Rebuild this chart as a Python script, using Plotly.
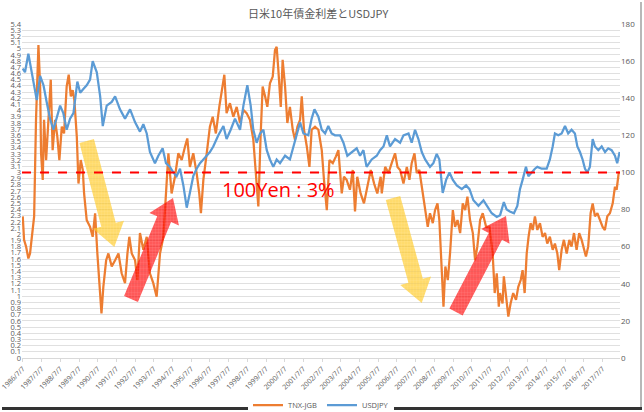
import pandas as pd
import plotly.graph_objects as go

# time axis as decimal years
spread_t = [1986.50, 1986.57, 1986.68, 1986.80, 1986.89, 1987.03, 1987.11, 1987.21, 1987.34, 1987.43,
            1987.48, 1987.57, 1987.64, 1987.75, 1987.87, 1988.00, 1988.10, 1988.23, 1988.35, 1988.46,
            1988.59, 1988.71, 1988.85, 1988.96, 1989.07, 1989.17, 1989.26, 1989.39, 1989.48, 1989.60,
            1989.71, 1989.78, 1989.92, 1990.10, 1990.24, 1990.37, 1990.49, 1990.60, 1990.71, 1990.81,
            1990.96, 1991.08, 1991.26, 1991.44, 1991.62, 1991.79, 1991.97, 1992.10, 1992.20, 1992.33,
            1992.51, 1992.63, 1992.77, 1992.95, 1993.13, 1993.30, 1993.48, 1993.66, 1993.84, 1994.02,
            1994.16, 1994.29, 1994.46, 1994.64, 1994.82, 1995.00, 1995.18, 1995.30, 1995.44, 1995.62,
            1995.80, 1995.94, 1996.03, 1996.16, 1996.34, 1996.51, 1996.66, 1996.83, 1997.01, 1997.19,
            1997.28, 1997.40, 1997.58, 1997.76, 1997.94, 1998.12, 1998.30, 1998.47, 1998.65, 1998.83,
            1998.97, 1999.10, 1999.22, 1999.33, 1999.46, 1999.58, 1999.72, 1999.87, 1999.99, 2000.08,
            2000.17, 2000.30, 2000.40, 2000.53, 2000.65, 2000.79, 2000.94, 2001.06, 2001.19, 2001.33,
            2001.42, 2001.54, 2001.69, 2001.83, 2001.95, 2002.13, 2002.31, 2002.49, 2002.61, 2002.76,
            2002.90, 2003.08, 2003.25, 2003.38, 2003.56, 2003.68, 2003.82, 2004.00, 2004.15, 2004.27,
            2004.39, 2004.57, 2004.75, 2004.93, 2005.11, 2005.29, 2005.46, 2005.64, 2005.70, 2005.88,
            2006.06, 2006.23, 2006.41, 2006.54, 2006.68, 2006.86, 2007.04, 2007.18, 2007.30, 2007.45,
            2007.57, 2007.71, 2007.89, 2008.02, 2008.16, 2008.28, 2008.43, 2008.55, 2008.68, 2008.78,
            2008.91, 2009.00, 2009.10, 2009.23, 2009.35, 2009.50, 2009.62, 2009.75, 2009.89, 2010.03,
            2010.16, 2010.28, 2010.42, 2010.57, 2010.69, 2010.81, 2010.96, 2011.10, 2011.28, 2011.46,
            2011.63, 2011.74, 2011.85, 2011.96, 2012.02, 2012.16, 2012.23, 2012.34, 2012.47, 2012.59,
            2012.73, 2012.88, 2013.00, 2013.13, 2013.23, 2013.34, 2013.45, 2013.55, 2013.66, 2013.77,
            2013.89, 2014.02, 2014.16, 2014.30, 2014.43, 2014.55, 2014.69, 2014.84, 2014.96, 2015.09,
            2015.19, 2015.32, 2015.44, 2015.59, 2015.73, 2015.85, 2015.98, 2016.12, 2016.26, 2016.39,
            2016.51, 2016.62, 2016.74, 2016.87, 2016.98, 2017.10, 2017.23, 2017.37, 2017.51, 2017.63,
            2017.76, 2017.90, 2018.05, 2018.17, 2018.26, 2018.37, 2018.42]
spread_v = [2.29, 1.91, 1.80, 1.61, 1.69, 2.02, 2.29, 3.85, 5.06, 4.39,
            3.31, 2.88, 3.85, 3.20, 3.74, 4.50, 3.36, 3.85, 3.58, 3.20,
            3.74, 3.63, 4.39, 4.58, 4.23, 4.33, 4.17, 3.58, 2.82, 3.20,
            3.04, 2.66, 2.23, 2.12, 1.96, 2.34, 1.69, 1.26, 0.72, 1.15,
            1.58, 1.69, 1.48, 1.58, 1.69, 1.37, 1.21, 1.69, 1.96, 1.69,
            1.58, 1.26, 2.02, 1.75, 1.96, 1.37, 1.21, 0.99, 1.69, 1.96,
            2.77, 3.31, 2.66, 2.93, 3.31, 3.20, 3.42, 3.55, 3.09, 3.31,
            2.99, 2.66, 2.34, 2.88, 3.31, 3.74, 3.90, 3.63, 4.06, 4.39,
            4.58, 3.96, 4.12, 3.90, 4.06, 3.80, 4.01, 3.96, 3.85, 3.53,
            3.04, 2.45, 3.58, 4.39, 4.23, 4.06, 4.44, 4.55, 4.98, 5.03,
            4.66, 4.06, 4.82, 4.39, 3.80, 4.06, 3.69, 3.53, 3.74, 3.85,
            4.23, 3.69, 3.42, 3.09, 3.69, 3.74, 3.69, 3.36, 2.88, 2.39,
            3.20, 3.15, 3.26, 3.36, 2.66, 2.93, 2.88, 2.72, 3.04, 2.37,
            2.93, 2.66, 2.50, 2.77, 3.04, 2.82, 2.66, 2.93, 2.66, 3.09,
            2.99, 3.15, 3.31, 3.09, 3.04, 2.82, 3.09, 2.88, 3.15, 3.31,
            2.99, 3.04, 2.66, 2.34, 2.12, 2.34, 2.18, 2.39, 2.50, 2.23,
            1.37, 0.83, 1.48, 1.26, 1.69, 2.39, 2.12, 2.23, 2.02, 2.50,
            2.39, 2.61, 2.23, 2.02, 1.58, 1.80, 2.23, 2.34, 2.12, 2.12,
            1.69, 1.05, 1.37, 0.83, 1.05, 0.88, 1.32, 0.99, 0.67, 0.88,
            1.05, 0.94, 1.15, 1.26, 1.42, 1.05, 1.69, 1.96, 2.18, 2.07,
            2.29, 2.07, 2.18, 1.96, 2.02, 1.85, 1.96, 1.75, 1.85, 1.69,
            1.42, 1.75, 1.91, 1.69, 1.91, 1.80, 2.02, 1.75, 2.02, 1.91,
            1.75, 1.64, 1.80, 2.34, 2.50, 2.29, 2.34, 2.23, 2.12, 2.07,
            2.29, 2.34, 2.50, 2.77, 2.72, 2.99, 3.01]

usd_t = [1986.50, 1986.62, 1986.80, 1986.98, 1987.25, 1987.43, 1987.61, 1987.78, 1987.96, 1988.14,
         1988.32, 1988.50, 1988.67, 1988.85, 1989.03, 1989.21, 1989.42, 1989.57, 1989.74, 1989.92,
         1990.10, 1990.24, 1990.46, 1990.64, 1990.78, 1990.99, 1991.26, 1991.44, 1991.70, 1991.97,
         1992.24, 1992.51, 1992.77, 1992.95, 1993.13, 1993.30, 1993.57, 1993.75, 1993.98, 1994.16,
         1994.37, 1994.55, 1994.73, 1994.91, 1995.09, 1995.27, 1995.44, 1995.62, 1995.80, 1995.98,
         1996.16, 1996.34, 1996.51, 1996.69, 1996.96, 1997.23, 1997.40, 1997.62, 1997.85, 1998.12,
         1998.30, 1998.51, 1998.69, 1998.83, 1999.01, 1999.19, 1999.37, 1999.55, 1999.72, 1999.90,
         2000.08, 2000.26, 2000.53, 2000.79, 2000.97, 2001.15, 2001.33, 2001.51, 2001.77, 2001.95,
         2002.10, 2002.31, 2002.49, 2002.67, 2002.84, 2003.02, 2003.20, 2003.47, 2003.65, 2003.86,
         2004.09, 2004.36, 2004.54, 2004.72, 2004.89, 2005.16, 2005.43, 2005.61, 2005.79, 2005.97,
         2006.14, 2006.41, 2006.68, 2006.86, 2007.13, 2007.30, 2007.48, 2007.66, 2007.84, 2008.02,
         2008.28, 2008.46, 2008.64, 2008.78, 2008.96, 2009.14, 2009.32, 2009.50, 2009.71, 2009.98,
         2010.21, 2010.39, 2010.60, 2010.87, 2011.14, 2011.31, 2011.58, 2011.85, 2012.03, 2012.23,
         2012.38, 2012.55, 2012.77, 2012.95, 2013.09, 2013.23, 2013.41, 2013.54, 2013.71, 2013.89,
         2014.02, 2014.25, 2014.52, 2014.69, 2014.84, 2014.96, 2015.14, 2015.32, 2015.50, 2015.67,
         2015.85, 2016.03, 2016.16, 2016.30, 2016.44, 2016.57, 2016.69, 2016.83, 2016.98, 2017.10,
         2017.28, 2017.46, 2017.64, 2017.81, 2017.99, 2018.17, 2018.29, 2018.42]
usd_v = [156, 154, 164, 154, 139, 152, 147, 138, 129, 123,
         130, 136, 132, 123, 129, 132, 149, 143, 145, 147,
         150, 160, 154, 141, 125, 136, 138, 141, 134, 129,
         134, 127, 122, 126, 121, 111, 105, 109, 113, 105,
         103, 100, 98, 102, 93, 81, 89, 98, 102, 105,
         107, 109, 111, 114, 120, 125, 118, 123, 129, 123,
         136, 147, 136, 123, 116, 121, 123, 112, 107, 103,
         107, 105, 109, 107, 114, 121, 127, 121, 120, 129,
         134, 130, 123, 121, 125, 121, 120, 120, 116, 109,
         111, 113, 109, 112, 103, 107, 109, 112, 114, 120,
         114, 118, 116, 120, 121, 116, 123, 118, 111, 107,
         103, 105, 110, 107, 89, 96, 100, 96, 93, 91,
         93, 91, 85, 82, 85, 82, 78, 76, 77, 84,
         80, 79, 78, 82, 91, 96, 103, 98, 100, 102,
         103, 102, 102, 107, 114, 121, 120, 121, 125, 121,
         123, 121, 114, 111, 107, 102, 100, 103, 118, 114,
         112, 114, 111, 113, 112, 109, 105, 111]

years = list(range(1986, 2018))
tick_labels = [f"{y}/7/7" for y in years]


def to_date(t):
    yr = int(t)
    return pd.Timestamp(yr, 1, 1) + pd.Timedelta(days=(t - yr) * 365.25)


# plot area in page pixels
PL, PR, PT, PB = 22, 620, 24, 358


def px_x(x):
    return (x - PL) / (PR - PL)


def px_y(y):
    return (PB - y) / (PB - PT)


def arrow(x0, y0, x1, y1, shaft=15, head=32, hlen=23):
    dx, dy = x1 - x0, y1 - y0
    n = (dx * dx + dy * dy) ** 0.5
    ux, uy = dx / n, dy / n
    px, py = -uy, ux
    bx, by = x1 - ux * hlen, y1 - uy * hlen
    s, h = shaft / 2, head / 2
    xs = [x0 + px * s, bx + px * s, bx + px * h, x1, bx - px * h, bx - px * s, x0 - px * s, x0 + px * s]
    ys = [y0 + py * s, by + py * s, by + py * h, y1, by - py * h, by - py * s, y0 - py * s, y0 + py * s]
    return xs, ys


fig = go.Figure()
fig.add_trace(go.Scatter(x=[to_date(t) for t in spread_t], y=spread_v, name="TNX-JGB",
                         mode="lines", line=dict(color="#ED7D31", width=2.25)))
fig.add_trace(go.Scatter(x=[to_date(t) for t in usd_t], y=usd_v, name="USDJPY", yaxis="y2",
                         mode="lines", line=dict(color="#5B9BD5", width=2.25)))

arrows = [
    ((86.7, 141, 114.3, 247), "rgba(255,200,30,0.65)"),
    ((131, 299, 173, 198), "rgba(255,0,0,0.65)"),
    ((393, 198, 421.7, 303), "rgba(255,200,30,0.65)"),
    ((456, 312, 506, 216), "rgba(255,0,0,0.65)"),
]
for (a, b, c, d), col in arrows:
    xs, ys = arrow(a, b, c, d)
    fig.add_trace(go.Scatter(x=xs, y=ys, xaxis="x3", yaxis="y3", mode="lines", fill="toself",
                             line=dict(width=0), fillcolor=col, showlegend=False, hoverinfo="skip",
                             fillpattern=dict(shape="+", fgcolor="rgba(255,255,255,0.4)",
                                              size=3, solidity=0.2)))

fig.add_shape(type="line", xref="paper", yref="y", x0=0, x1=1, y0=3, y1=3,
              line=dict(color="#FF0000", width=2, dash="dash"))
fig.add_annotation(text="100Yen : 3%", xref="x3", yref="y3", x=220, y=189, xanchor="left",
                   showarrow=False, font=dict(size=20, color="#FF0000"))

# picture frame
fig.add_shape(type="line", xref="paper", yref="paper", x0=px_x(641), x1=px_x(641),
              y0=px_y(2), y1=px_y(407), line=dict(color="#a0a0a0", width=1.5))
fig.add_shape(type="line", xref="paper", yref="paper", x0=px_x(2), x1=px_x(642),
              y0=px_y(408.5), y1=px_y(408.5), line=dict(color="#333333", width=3))

grey = "#595959"
fig.update_layout(
    width=644, height=412,
    margin=dict(l=PL, r=644 - PR, t=PT, b=412 - PB, autoexpand=False),
    paper_bgcolor="white", plot_bgcolor="white",
    font=dict(family="Open Sans, Noto Sans CJK JP", size=8, color=grey),
    title=dict(text="日米10年債金利差とUSDJPY", x=0.494, y=0.965, xanchor="center", yanchor="middle",
               font=dict(family="Noto Sans CJK JP", size=11, color=grey)),
    xaxis=dict(type="date", range=[to_date(1986.46), to_date(2018.44)],
               tickvals=[pd.Timestamp(y, 7, 7) for y in years], ticktext=tick_labels,
               tickangle=-45, ticks="outside", ticklen=3, tickcolor="#d9d9d9",
               showgrid=False, showline=True, linecolor="#d9d9d9", automargin=False,
               ticklabeloverflow="allow", tickfont=dict(size=7, color=grey)),
    yaxis=dict(range=[0, 5.4], dtick=0.1, tick0=0, showgrid=True, gridcolor="#e0e0e0",
               gridwidth=1, zeroline=False, ticks="", automargin=False,
               ticklabeloverflow="allow", tickfont=dict(size=7.5, color=grey)),
    yaxis2=dict(range=[0, 180], dtick=20, overlaying="y", side="right", showgrid=False,
                zeroline=False, automargin=False, ticklabeloverflow="allow",
                tickfont=dict(size=8, color=grey)),
    xaxis3=dict(overlaying="x", range=[PL, PR], visible=False, anchor="y3"),
    yaxis3=dict(overlaying="y", range=[PB, PT], visible=False, anchor="x3"),
    legend=dict(orientation="h", x=0.5, xanchor="center", y=px_y(405), yanchor="middle",
                font=dict(size=7.5, color=grey)),
    showlegend=True,
)

fig.write_html("out.html", config={"displayModeBar": False},
               post_script="document.body.style.margin='0';")
